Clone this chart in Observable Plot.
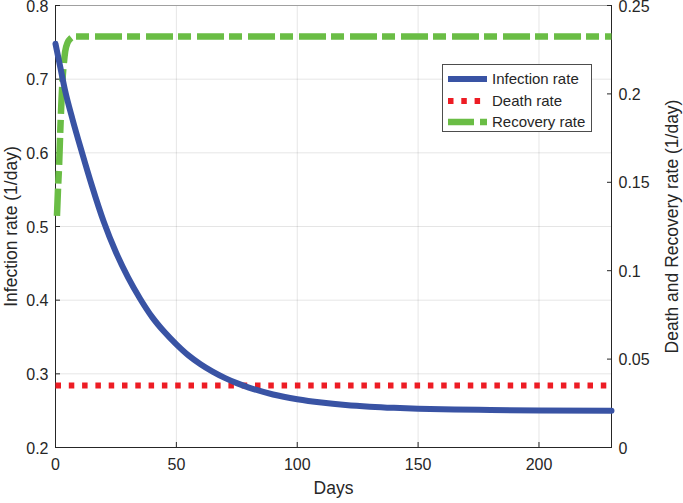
<!DOCTYPE html>
<html><head><meta charset="utf-8">
<script src="https://cdn.jsdelivr.net/npm/d3@7"></script>
<script src="https://cdn.jsdelivr.net/npm/@observablehq/plot@0.6"></script>
<style>
body{margin:0;background:#fff;}
#wrap{position:relative;width:683px;height:503px;font-family:"Liberation Sans",Arial,sans-serif;}
.legend{position:absolute;left:442px;top:64px;width:148px;height:66px;border:1px solid #4d4d4d;background:#fff;font-size:15px;color:#262626;}
.legend svg{position:absolute;left:0;top:0;}
.legend div{position:absolute;left:49px;line-height:18px;white-space:nowrap;}
</style></head><body><div id="wrap"></div>
<script>
// Infection rate (left axis, 1/day)
const infDays = [0, 2, 4, 7, 11, 15, 20, 25, 30, 35, 40, 45, 50, 55, 60, 65, 70, 75, 80, 90, 100, 110, 120, 130, 140, 150, 165, 180, 200, 230];
const infRate = [0.748, 0.716, 0.684, 0.646, 0.600, 0.556, 0.506, 0.465, 0.431, 0.402, 0.377, 0.357, 0.340, 0.325, 0.313, 0.303, 0.2945, 0.2874, 0.2814, 0.272, 0.2656, 0.261, 0.2577, 0.2554, 0.2538, 0.2527, 0.2516, 0.2509, 0.2503, 0.2498];
// Death rate (right axis, 1/day)
const deathDays = [0, 230];
const deathRate = [0.035, 0.035];
// Recovery rate (right axis, 1/day)
const recDays = [0.6, 1, 1.5, 2, 2.5, 3, 3.5, 4, 5, 6, 8, 230];
const recRate = [0.131, 0.145, 0.160, 0.180, 0.197, 0.210, 0.218, 0.224, 0.229, 0.231, 0.2325, 0.2325];
// axes
const xDomain = [0, 230];
const leftDomain = [0.2, 0.8];
const rightDomain = [0, 0.25];
const xTicks = [0, 50, 100, 150, 200];
const leftTicks = [0.2, 0.3, 0.4, 0.5, 0.6, 0.7, 0.8];
const rightTicks = [0, 0.05, 0.1, 0.15, 0.2, 0.25];
const xLabel = "Days";
const leftLabel = "Infection rate (1/day)";
const rightLabel = "Death and Recovery rate (1/day)";
const seriesNames = ["Infection rate", "Death rate", "Recovery rate"];
const colors = ["#3953a4", "#ed1c24", "#6abd45"];

const k = (leftDomain[1] - leftDomain[0]) / (rightDomain[1] - rightDomain[0]);
const toLeft = r => leftDomain[0] + (r - rightDomain[0]) * k;
const fromLeft = v => rightDomain[0] + (v - leftDomain[0]) / k;

const inf = infDays.map((d, i) => ({day: d, v: infRate[i]}));
const death = deathDays.map((d, i) => ({day: d, v: toLeft(deathRate[i])}));
const rec = recDays.map((d, i) => ({day: d, v: toLeft(recRate[i])}));

const ink = "#262626";
const chart = Plot.plot({
  width: 683, height: 503,
  marginLeft: 55, marginRight: 72, marginTop: 5, marginBottom: 56,
  style: {fontFamily: '"Liberation Sans", Arial, sans-serif', fontSize: "16px", color: ink, background: "#fff"},
  x: {domain: xDomain},
  y: {domain: leftDomain},
  marks: [
    Plot.gridX(xTicks, {stroke: "#000", strokeOpacity: 0.1}),
    Plot.gridY(leftTicks, {stroke: "#000", strokeOpacity: 0.1}),
    Plot.ruleY([leftDomain[1]], {stroke: "#a0a0a0"}),
    Plot.ruleY([leftDomain[0]], {stroke: ink}),
    Plot.ruleX([xDomain[0]], {stroke: ink}),
    Plot.ruleX([xDomain[1]], {stroke: ink}),
    // inward tick marks
    Plot.axisX(xTicks, {tickSize: 5, dy: -5, tickFormat: () => "", label: null, stroke: ink}),
    Plot.axisY(leftTicks, {anchor: "left", tickSize: 5, dx: 5, tickFormat: () => "", label: null, stroke: ink}),
    Plot.axisY(rightTicks.map(toLeft), {anchor: "right", tickSize: 5, dx: -5, tickFormat: () => "", label: null, stroke: ink}),
    // tick labels
    Plot.axisX(xTicks, {tickSize: 0, tickPadding: 11, fontSize: 16, label: null, fill: ink, tickFormat: d => String(d)}),
    Plot.axisY(leftTicks, {anchor: "left", tickSize: 0, tickPadding: 7, dy: 1, fontSize: 16, label: null, fill: ink, tickFormat: d => String(d)}),
    Plot.axisY(rightTicks.map(toLeft), {anchor: "right", tickSize: 0, tickPadding: 7, dy: 1, fontSize: 16, label: null, fill: ink, tickFormat: d => String(Math.round(fromLeft(d) * 100) / 100)}),
    // axis titles
    Plot.text([xLabel], {text: d => d, frameAnchor: "bottom", dy: 46, fontSize: 17.5, fill: ink}),
    Plot.text([leftLabel], {text: d => d, frameAnchor: "left", textAnchor: "middle", rotate: -90, dx: -44, fontSize: 17.5, fill: ink}),
    Plot.text([rightLabel], {text: d => d, frameAnchor: "right", textAnchor: "middle", rotate: -90, dx: 61, fontSize: 17.5, fill: ink}),
    // series
    Plot.line(death, {x: "day", y: "v", stroke: colors[1], strokeWidth: 6, strokeDasharray: "5.5,7.8", strokeLinecap: "butt"}),
    Plot.line(rec, {x: "day", y: "v", stroke: colors[2], strokeWidth: 6.5, strokeDasharray: "27,5,13,6", strokeLinecap: "butt", curve: "monotone-x"}),
    Plot.line(inf, {x: "day", y: "v", stroke: colors[0], strokeWidth: 6, curve: "monotone-x"})
  ]
});
const wrap = document.getElementById("wrap");
wrap.appendChild(chart);

// legend
const lg = document.createElement("div");
lg.className = "legend";
const ys = [14, 36, 57];
lg.innerHTML = `<svg width="48" height="66">
<line x1="5" x2="44" y1="${ys[0]}" y2="${ys[0]}" stroke="${colors[0]}" stroke-width="6"/>
<line x1="5" x2="44" y1="${ys[1]}" y2="${ys[1]}" stroke="${colors[1]}" stroke-width="6" stroke-dasharray="5.5,7.8"/>
<line x1="5" x2="44" y1="${ys[2]}" y2="${ys[2]}" stroke="${colors[2]}" stroke-width="6.5" stroke-dasharray="26,6,13,6"/>
</svg>` + seriesNames.map((n, i) => `<div style="top:${ys[i] - 9}px">${n}</div>`).join("");
wrap.appendChild(lg);
</script>
</body></html>
